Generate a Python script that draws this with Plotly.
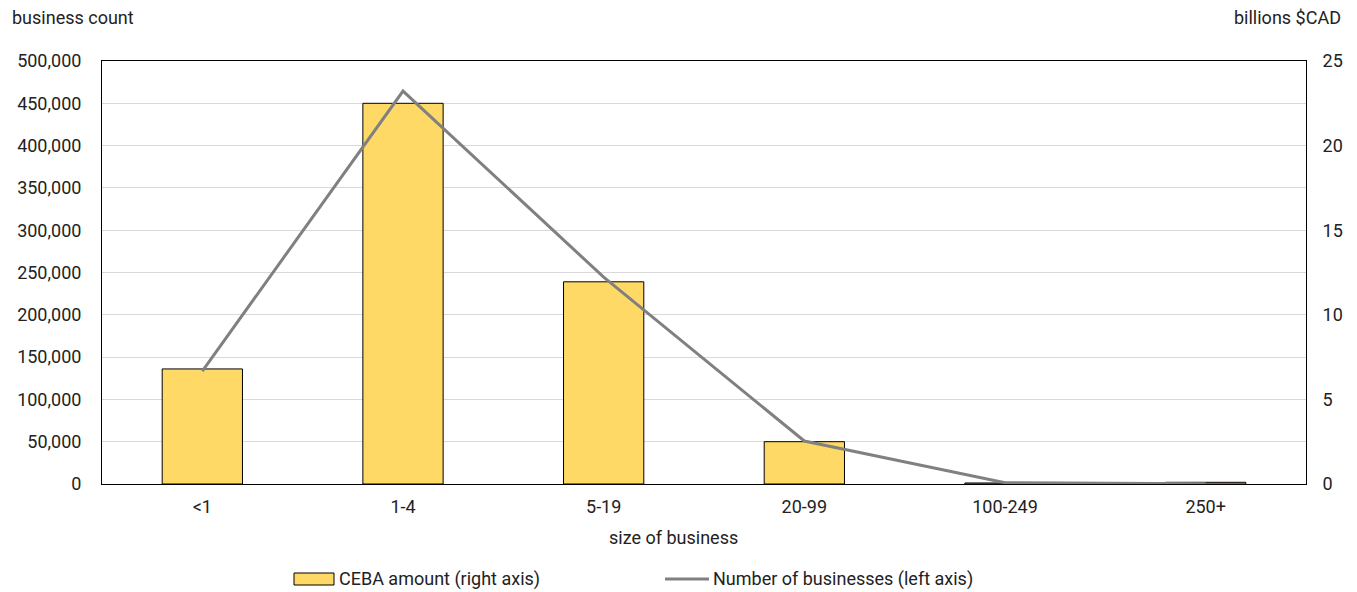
import plotly.graph_objects as go

# Business size categories (number of employees)
sizes = ["<1", "1-4", "5-19", "20-99", "100-249", "250+"]

# CEBA loan amounts, billions $CAD (right axis)
ceba_amount = [6.8, 22.5, 11.95, 2.5, 0.06, 0.1]

# Number of businesses (left axis)
business_count = [133500, 464500, 244500, 50800, 1500, 300]

left_ticks = list(range(0, 500001, 50000))
right_ticks = [0, 5, 10, 15, 20, 25]

FONT = "Roboto, Arial"
TEXT = "#222222"
BAR_FILL = "#FFD966"
LINE_COLOR = "#808080"
FS = 18

# plot area in pixels
L, R, T, B = 102, 1306, 61, 484
PW, PH = R - L, B - T


def px(x):
    return (x - L) / PW


def py(y):
    return (B - y) / PH


fig = go.Figure()

fig.add_trace(go.Bar(
    x=sizes, y=ceba_amount, name="CEBA amount (right axis)",
    marker=dict(color=BAR_FILL, line=dict(color="#000000", width=1)),
    yaxis="y", showlegend=False,
))

fig.add_trace(go.Scatter(
    x=sizes, y=business_count, name="Number of businesses (left axis)",
    mode="lines", line=dict(color=LINE_COLOR, width=3),
    yaxis="y2", showlegend=False,
))

legend_y = 579
shapes = [
    dict(type="rect", xref="paper", yref="paper",
         x0=px(294), x1=px(334), y0=py(585), y1=py(573),
         fillcolor=BAR_FILL, line=dict(color="#000000", width=1)),
    dict(type="line", xref="paper", yref="paper",
         x0=px(665), x1=px(709), y0=py(legend_y), y1=py(legend_y),
         line=dict(color=LINE_COLOR, width=3)),
]

fig.update_layout(
    width=1357, height=592,
    margin=dict(l=L, r=1357 - R, t=T, b=592 - B, autoexpand=False),
    paper_bgcolor="white", plot_bgcolor="white",
    font=dict(family=FONT, size=FS, color=TEXT),
    bargap=0.6,
    showlegend=False,
    xaxis=dict(
        showline=True, linecolor="black", linewidth=1, mirror=True,
        ticks="", showgrid=False, ticklabelstandoff=6,
        tickfont=dict(size=FS),
    ),
    yaxis=dict(
        side="right", range=[0, 25], tickvals=right_ticks,
        showgrid=False, showline=True, linecolor="black", linewidth=1,
        ticks="", zeroline=False, ticklabelstandoff=12,
        tickfont=dict(size=FS),
    ),
    yaxis2=dict(
        side="left", overlaying="y", range=[0, 500000],
        tickvals=left_ticks, tickformat=",",
        showgrid=True, gridcolor="#d9d9d9", gridwidth=1,
        showline=True, linecolor="black", linewidth=1,
        ticks="", zeroline=False, ticklabelstandoff=16,
        tickfont=dict(size=FS),
    ),
    shapes=shapes,
    annotations=[
        dict(text="business count", xref="paper", yref="paper",
             x=px(10), y=py(18), xanchor="left", yanchor="middle",
             showarrow=False),
        dict(text="billions $CAD", xref="paper", yref="paper",
             x=px(1343), y=py(18), xanchor="right", yanchor="middle",
             showarrow=False),
        dict(text="size of business", xref="paper", yref="paper",
             x=0.475, y=py(537), xanchor="center", yanchor="middle",
             showarrow=False),
        dict(text="CEBA amount (right axis)", xref="paper", yref="paper",
             x=px(337), y=py(legend_y), xanchor="left", yanchor="middle",
             showarrow=False),
        dict(text="Number of businesses (left axis)", xref="paper", yref="paper",
             x=px(711), y=py(legend_y), xanchor="left", yanchor="middle",
             showarrow=False),
    ],
)

fig.write_html("out.html")
